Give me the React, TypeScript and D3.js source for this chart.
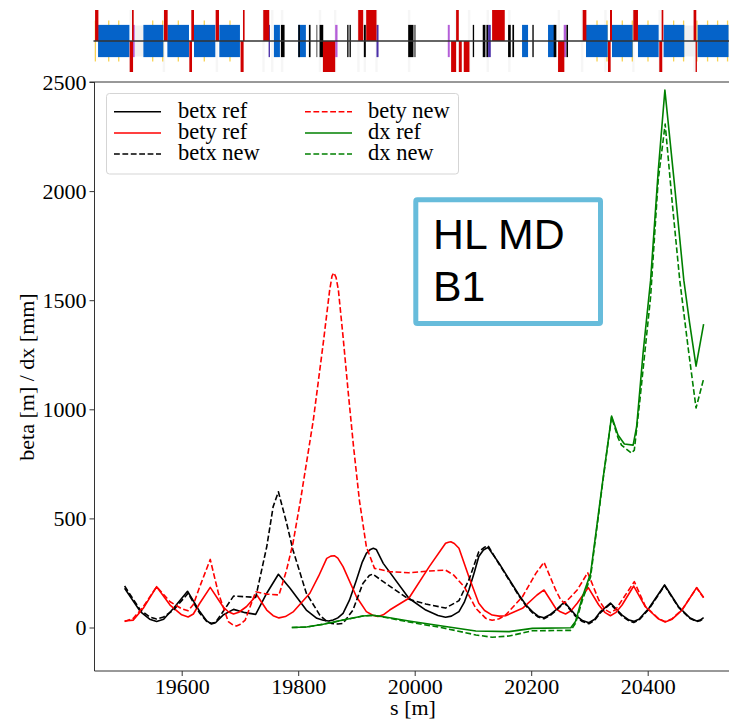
import React, { useEffect, useRef } from "react";
import * as d3 from "d3";

// ---- optics data: s [m] and value ----
const betxRefS = [19502,19529,19545,19557,19569,19586,19610,19631,19643,19651,19658,19671,19689,19709,19727,19746,19766,19786,19814,19832,19843,19852,19860,19868,19877,19888,19900,19910,19917,19924,19929,19934,19946,19990,20019,20040,20053,20063,20076,20085,20093,20102,20110,20118,20126,20145,20179,20192,20202,20212,20222,20232,20242,20257,20266,20276,20288,20299,20309,20319,20336,20356,20368,20376,20385,20402,20429,20453,20472,20484,20490,20496];
const betxRef = [180,73,38,28,38,88,166,73,30,16,22,57,83,68,60,157,244,180,80,42,33,30,34,44,65,125,218,300,340,358,363,358,294,134,80,55,47,52,73,115,172,250,325,355,367,294,149,100,73,52,45,58,80,117,88,57,32,22,38,73,112,57,34,28,38,88,195,95,45,30,34,45];

const betyRefS = [19502,19517,19534,19557,19580,19600,19611,19620,19631,19649,19671,19680,19689,19698,19711,19729,19746,19757,19767,19778,19792,19820,19835,19849,19856,19862,19868,19877,19900,19917,19928,19937,19946,19957,19990,20025,20053,20058,20062,20068,20076,20093,20110,20120,20133,20145,20156,20185,20210,20222,20242,20250,20259,20268,20279,20298,20316,20327,20336,20345,20356,20376,20396,20418,20430,20442,20459,20484,20496];
const betyRef = [30,34,88,187,103,58,48,62,111,184,95,72,62,70,95,149,80,54,44,50,73,157,235,317,327,329,318,279,141,73,56,50,58,80,134,279,386,391,393,385,363,233,111,78,57,52,54,88,149,172,88,72,62,76,111,183,103,68,54,68,103,190,95,40,25,38,80,183,138];

const betxNewS = [19502,19529,19545,19557,19569,19586,19611,19631,19643,19651,19658,19669,19689,19727,19746,19757,19766,19780,19791,19814,19837,19848,19857,19868,19877,19894,19911,19922,19928,19946,19990,20019,20053,20076,20093,20110,20120,20126,20145,20179,20192,20202,20212,20222,20232,20242,20257,20266,20276,20288,20299,20309,20319,20336,20356,20368,20376,20385,20402,20429,20453,20472,20484,20490,20496];
const betxNew = [190,80,48,39,48,80,157,65,28,19,24,65,144,138,370,554,622,480,355,157,57,30,19,16,19,80,202,238,245,210,129,108,89,123,218,347,368,375,290,145,96,68,48,40,54,76,113,84,52,27,17,33,68,108,52,30,23,34,84,192,92,42,27,31,42];

const betyNewS = [19502,19517,19534,19557,19580,19600,19611,19620,19631,19649,19663,19680,19688,19694,19700,19709,19727,19746,19767,19780,19791,19804,19826,19843,19854,19858,19861,19865,19869,19877,19886,19895,19905,19917,19931,19957,19990,20025,20053,20067,20085,20105,20122,20133,20145,20156,20185,20208,20222,20242,20250,20257,20266,20279,20297,20316,20327,20336,20345,20356,20377,20396,20418,20430,20442,20459,20484,20496];
const betyNew = [27,42,95,187,118,86,77,105,187,312,157,27,12,7,14,34,164,153,149,263,386,584,951,1303,1546,1610,1626,1605,1546,1333,1074,829,584,370,271,256,251,259,263,240,187,88,42,33,40,57,141,248,299,172,130,111,135,172,251,126,82,68,82,126,210,97,42,27,40,82,181,136];

const dxRefS = [19789,19814,19843,19877,19911,19929,19957,19990,20047,20105,20162,20202,20268,20276,20288,20302,20323,20338,20349,20360,20375,20381,20392,20405,20418,20429.5,20446,20462,20472,20483,20496];
const dxRef = [0,2,15,34,53,56,45,30,7,-16,-19,-4,-1,27,141,248,676,969,882,841,836,920,1257,1592,2090,2463,2030,1592,1395,1198,1390];

const dxNewS = [19789,19814,19843,19877,19911,19929,19957,19990,20047,20105,20133,20162,20202,20268,20276,20288,20302,20323,20338,20349,20355,20372,20377,20386,20405,20418,20430,20442,20455,20470,20483,20496];
const dxNew = [0,2,15,34,53,56,43,25,-1,-34,-45,-39,-15,-13,19,126,233,670,965,870,836,799,813,1027,1516,2050,2307,1950,1592,1270,1006,1139];

// ---- lattice elements: [s start, s end] ----
const blueElements = [[19456.4,19510.2],[19534.2,19568.5],[19575.4,19612.5],[19621.1,19657.7],[19664.6,19700],[19758.3,19768.6],[19800.1,19813.2],[20184.3,20194.6],[20228.9,20240.3],[20294.1,20331.3],[20338.7,20374.1],[20383.3,20418.8],[20427.3,20462.8],[20485.7,20538.8]];
const blackElements = [[19770.3,19776.6],[19800.1,19802.9],[19818.4,19821.2],[19831.5,19832.7],[19836.7,19843],[19884.1,19886.4],[19888.1,19890.4],[19912.7,19916.1],[19988.8,19997.9],[19999.6,20001.3],[20099.7,20102],[20116.8,20121.4],[20123.1,20126],[20160.3,20164.9],[20167.7,20170.6],[20202,20204.3],[20238.6,20243.2],[20260.4,20263.2]];
const lightPurple = [[19515.9,19519.3],[19863.5,19867.5],[20056.8,20060.2],[20255.8,20259.8]];
const darkPurple = [[19749.2,19751.5],[19934.4,19937.9],[20126,20130.6]];
const redUpper = [[19451.3,19457],[19514.7,19517.6],[19569.6,19575.9],[19616.5,19621.1],[19658.3,19664],[19705.2,19708],[19740,19750.3],[19903,19911.6],[19916.7,19934.4],[20071.1,20075.7],[20132.9,20154.6],[20288.4,20294.7],[20335.3,20338.7],[20375.3,20383.3],[20423.9,20426.8],[20478.8,20483.4]];
const redLower = [[19510.7,19516.5],[19613.1,19617.7],[19701.1,19706.3],[19842.4,19863.5],[20062.5,20071.1],[20075.7,20080.8],[20084.2,20094],[20246.1,20256.9],[20331.8,20336.4],[20419.9,20425],[20482.2,20484.5]];
const yellowTicks = [19451.8,19474.7,19491.9,19550.2,19567.4,19594.2,19638.8,19682.9,20313,20330.1,20356.4,20373.6,20400.5,20444.5,20461.6,20484.5,20502.8,20520,20537.1];
const grayBands = [[19519.3,19534.2],[20462.8,20485.7]];
const faintLines = [19512,19569,19660,19740,19755,19772,19837,19863,19903,19914,19934,19990,20070,20093,20125,20162,20247,20287,20327,20375,20420,20480];

const xTicks = [19600,19800,20000,20200,20400];
const yTicks = [0,500,1000,1500,2000,2500];

const legendLeft = [
  { label: "betx ref", color: "#000000", dash: false },
  { label: "bety ref", color: "#ff0000", dash: false },
  { label: "betx new", color: "#000000", dash: true },
];
const legendRight = [
  { label: "bety new", color: "#ff0000", dash: true },
  { label: "dx ref", color: "#008000", dash: false },
  { label: "dx new", color: "#008000", dash: true },
];

const SERIF = "'Liberation Serif', serif";
const SANS = "'Liberation Sans', sans-serif";
const DASH = "5.8 2.6";

const x = d3.scaleLinear().domain([19600, 20400]).range([181.7, 647.7]);
const y = d3.scaleLinear().domain([0, 2500]).range([627.5, 82]);
const ys = d3.scaleLinear().domain([-1, 1]).range([72, 10]);
const left = 94.5;
const right = 729;
const top = 82;
const bottom = 671;

const lineOf = (xs: number[], vs: number[]) =>
  d3.line<number>().x((d) => x(d)).y((_, i) => y(vs[i])).curve(d3.curveLinear)(xs) as string;

function Bars({ data, y0, y1, fill, opacity }: { data: number[][]; y0: number; y1: number; fill: string; opacity?: number }) {
  return (
    <g fill={fill} opacity={opacity}>
      {data.map((d, i) => (
        <rect key={i} x={x(d[0])} width={x(d[1]) - x(d[0])} y={ys(y1)} height={ys(y0) - ys(y1)} />
      ))}
    </g>
  );
}

export default function App() {
  const xAxisRef = useRef<SVGGElement>(null);
  const yAxisRef = useRef<SVGGElement>(null);

  useEffect(() => {
    const style = (sel: any) => {
      sel.select(".domain").remove();
      sel.selectAll("line").attr("stroke", "#333").attr("stroke-width", 1);
      sel.selectAll("text").attr("font-family", SERIF).attr("font-size", 22).attr("fill", "#000");
    };
    d3.select(xAxisRef.current as SVGGElement)
      .call(d3.axisBottom(x).tickValues(xTicks).tickFormat(d3.format("d")).tickSize(5).tickPadding(2) as any)
      .call(style);
    d3.select(yAxisRef.current as SVGGElement)
      .call(d3.axisLeft(y).tickValues(yTicks).tickFormat(d3.format("d")).tickSize(5).tickPadding(3) as any)
      .call(style);
  }, []);

  const legendRows = (items: typeof legendLeft, x0: number, x1: number, tx: number) =>
    items.map((it, i) => {
      const ly = 111.7 + i * 21.2;
      return (
        <g key={it.label}>
          <line x1={x0} x2={x1} y1={ly} y2={ly} stroke={it.color} strokeWidth={1.5} strokeDasharray={it.dash ? DASH : undefined} />
          <text x={tx} y={ly + 6} fontFamily={SERIF} fontSize={22.5} fill="#000">{it.label}</text>
        </g>
      );
    });

  return (
    <svg width={729} height={720} style={{ position: "absolute", left: 0, top: 0, display: "block", background: "#fff" }}>
      {/* lattice strip */}
      <g>
        {faintLines.map((s, i) => (
          <rect key={i} x={x(s) - 1} width={2.5} y={ys(1)} height={ys(-1) - ys(1)} fill="#000" opacity={0.035} />
        ))}
        <Bars data={grayBands} y0={-0.5} y1={0.5} fill="#f1f1f1" />
        {yellowTicks.map((s, i) => (
          <line key={i} x1={x(s)} x2={x(s)} y1={ys(0.66)} y2={ys(-0.66)} stroke="#f7c82a" strokeWidth={1.3} opacity={0.8} />
        ))}
        <Bars data={blueElements} y0={-0.52} y1={0.52} fill="#0563c9" />
        <Bars data={blackElements} y0={-0.52} y1={0.52} fill="#000" />
        <Bars data={lightPurple} y0={-0.52} y1={0.52} fill="#b45ed8" />
        <Bars data={darkPurple} y0={-0.52} y1={0.52} fill="#4a2fa8" />
        <Bars data={redUpper} y0={0} y1={1} fill="#d00000" />
        <Bars data={redLower} y0={-1} y1={0} fill="#d00000" />
        <line x1={left - 1} x2={right} y1={ys(0)} y2={ys(0)} stroke="#333" strokeWidth={1.3} />
      </g>

      {/* axes frame */}
      <line x1={left} x2={left} y1={top} y2={bottom} stroke="#333" strokeWidth={1} />
      <line x1={left - 5} x2={right} y1={top} y2={top} stroke="#333" strokeWidth={1} />
      <line x1={left} x2={right} y1={bottom} y2={bottom} stroke="#333" strokeWidth={1} />
      <g ref={xAxisRef} transform={`translate(0,${bottom})`} />
      <g ref={yAxisRef} transform={`translate(${left},0)`} />

      {/* optics curves */}
      <g fill="none" strokeWidth={1.6} strokeLinejoin="round">
        <path d={lineOf(betxRefS, betxRef)} stroke="#000" />
        <path d={lineOf(betyRefS, betyRef)} stroke="#ff0000" />
        <path d={lineOf(betxNewS, betxNew)} stroke="#000" strokeDasharray={DASH} />
        <path d={lineOf(betyNewS, betyNew)} stroke="#ff0000" strokeDasharray={DASH} />
        <path d={lineOf(dxRefS, dxRef)} stroke="#008000" />
        <path d={lineOf(dxNewS, dxNew)} stroke="#008000" strokeDasharray={DASH} />
      </g>

      {/* legend */}
      <rect x={106.5} y={93.5} width={352} height={80.5} rx={3} fill="#fff" fillOpacity={0.8} stroke="#d5d5d5" strokeWidth={1} />
      {legendRows(legendLeft, 114, 161, 178)}
      {legendRows(legendRight, 305, 352, 368)}

      {/* annotation box */}
      <rect x={415.8} y={199.8} width={184.7} height={123.7} rx={1.5} fill="#fff" stroke="#67bcdb" strokeWidth={5} />
      <text x={433} y={249} fontFamily={SANS} fontSize={42.8} fill="#000">HL MD</text>
      <text x={433} y={301} fontFamily={SANS} fontSize={42.8} fill="#000">B1</text>

      {/* axis labels */}
      <text x={413} y={715} textAnchor="middle" fontFamily={SERIF} fontSize={22} fill="#000">s [m]</text>
      <text transform="translate(34,377) rotate(-90)" textAnchor="middle" fontFamily={SERIF} fontSize={22} fill="#000">beta [m] / dx [mm]</text>
    </svg>
  );
}
